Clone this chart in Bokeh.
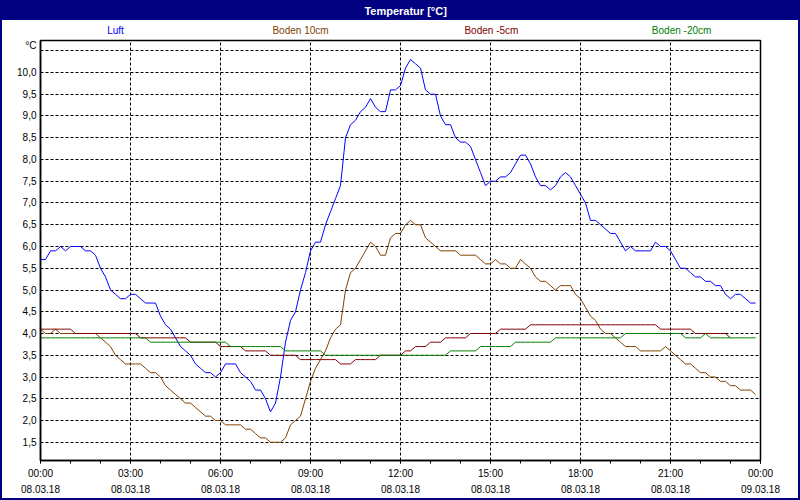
import numpy as np
from bokeh.plotting import figure
from bokeh.layouts import column
from bokeh.models import Range1d, FixedTicker
from bokeh.core.properties import value
from bokeh.embed import file_html
from bokeh.resources import INLINE

TITLE = "Temperatur [°C]"
UNIT = "°C"
series_names = ["Luft", "Boden 10cm", "Boden -5cm", "Boden -20cm"]
series_colors = ["#0000FF", "#804000", "#800000", "#008000"]
step_minutes = 10  # one reading every 10 minutes, starting 08.03.18 00:00

luft = [5.7, 5.7, 5.9, 5.9, 6.0, 5.9, 6.0, 6.0, 6.0, 5.9, 5.9, 5.8,
        5.5, 5.3, 5.0, 4.9, 4.8, 4.8, 4.9, 4.9, 4.8, 4.7, 4.7, 4.7,
        4.4, 4.2, 4.1, 3.9, 3.7, 3.6, 3.5, 3.3, 3.2, 3.1, 3.1, 3.0,
        3.1, 3.3, 3.3, 3.3, 3.1, 3.0, 2.9, 2.7, 2.7, 2.5, 2.2, 2.4,
        3.0, 3.8, 4.3, 4.5, 5.0, 5.4, 5.9, 6.1, 6.1, 6.5, 6.8, 7.1,
        7.4, 8.5, 8.8, 8.9, 9.1, 9.2, 9.4, 9.2, 9.1, 9.1, 9.6, 9.6,
        9.7, 10.1, 10.3, 10.2, 10.1, 9.6, 9.5, 9.5, 9.0, 8.8, 8.8, 8.5,
        8.4, 8.4, 8.3, 8.0, 7.7, 7.4, 7.5, 7.5, 7.6, 7.6, 7.7, 7.9,
        8.1, 8.1, 7.9, 7.6, 7.4, 7.4, 7.3, 7.4, 7.6, 7.7, 7.6, 7.4,
        7.2, 7.0, 6.6, 6.6, 6.5, 6.4, 6.3, 6.3, 6.1, 5.9, 6.0, 5.9,
        5.9, 5.9, 5.9, 6.1, 6.0, 6.0, 5.9, 5.7, 5.5, 5.5, 5.4, 5.3,
        5.3, 5.2, 5.2, 5.1, 5.1, 4.9, 4.8, 4.9, 4.9, 4.8, 4.7, 4.7]

boden_10 = [4.1, 4.0, 4.0, 4.1, 4.0, 4.0, 4.0, 4.0, 4.0, 4.0, 4.0, 4.0,
            3.9, 3.8, 3.7, 3.5, 3.4, 3.3, 3.3, 3.3, 3.3, 3.2, 3.1, 3.1,
            3.0, 2.8, 2.7, 2.6, 2.5, 2.4, 2.4, 2.3, 2.2, 2.1, 2.1, 2.0,
            2.0, 1.9, 1.9, 1.9, 1.9, 1.8, 1.8, 1.7, 1.6, 1.6, 1.5, 1.5,
            1.5, 1.6, 1.9, 2.0, 2.1, 2.5, 2.9, 3.2, 3.4, 3.6, 3.9, 4.1,
            4.2, 5.0, 5.4, 5.5, 5.7, 5.9, 6.1, 6.0, 5.8, 5.8, 6.2, 6.3,
            6.3, 6.5, 6.6, 6.5, 6.5, 6.2, 6.1, 6.0, 5.9, 5.9, 5.9, 5.9,
            5.8, 5.8, 5.8, 5.8, 5.7, 5.6, 5.6, 5.7, 5.6, 5.6, 5.5, 5.5,
            5.7, 5.6, 5.5, 5.3, 5.2, 5.2, 5.1, 5.0, 5.1, 5.1, 5.1, 4.9,
            4.8, 4.6, 4.4, 4.3, 4.1, 4.0, 4.0, 3.9, 3.8, 3.7, 3.7, 3.7,
            3.6, 3.6, 3.6, 3.6, 3.6, 3.7, 3.6, 3.5, 3.4, 3.3, 3.3, 3.2,
            3.1, 3.1, 3.0, 3.0, 2.9, 2.9, 2.8, 2.8, 2.7, 2.7, 2.7, 2.6]

boden_m5 = [4.1, 4.1, 4.1, 4.1, 4.1, 4.1, 4.1, 4.0, 4.0, 4.0, 4.0, 4.0,
            4.0, 4.0, 4.0, 4.0, 4.0, 4.0, 4.0, 4.0, 3.9, 3.9, 3.9, 3.9,
            3.9, 3.9, 3.9, 3.9, 3.9, 3.9, 3.8, 3.8, 3.8, 3.8, 3.8, 3.8,
            3.7, 3.7, 3.7, 3.7, 3.7, 3.6, 3.6, 3.6, 3.6, 3.6, 3.5, 3.5,
            3.5, 3.5, 3.5, 3.5, 3.4, 3.4, 3.4, 3.4, 3.4, 3.4, 3.4, 3.4,
            3.3, 3.3, 3.3, 3.4, 3.4, 3.4, 3.4, 3.4, 3.5, 3.5, 3.5, 3.5,
            3.5, 3.6, 3.6, 3.7, 3.7, 3.7, 3.8, 3.8, 3.8, 3.9, 3.9, 3.9,
            3.9, 3.9, 4.0, 4.0, 4.0, 4.0, 4.0, 4.0, 4.1, 4.1, 4.1, 4.1,
            4.1, 4.1, 4.2, 4.2, 4.2, 4.2, 4.2, 4.2, 4.2, 4.2, 4.2, 4.2,
            4.2, 4.2, 4.2, 4.2, 4.2, 4.2, 4.2, 4.2, 4.2, 4.2, 4.2, 4.2,
            4.2, 4.2, 4.2, 4.2, 4.1, 4.1, 4.1, 4.1, 4.1, 4.1, 4.1, 4.0,
            4.0, 4.0, 4.0, 4.0, 4.0, 4.0, 3.9]

boden_m20 = [3.9, 3.9, 3.9, 3.9, 3.9, 3.9, 3.9, 3.9, 3.9, 3.9, 3.9, 3.9,
             3.9, 3.9, 3.9, 3.9, 3.9, 3.9, 3.9, 3.9, 3.9, 3.9, 3.8, 3.8,
             3.8, 3.8, 3.8, 3.8, 3.8, 3.8, 3.8, 3.8, 3.8, 3.8, 3.8, 3.8,
             3.8, 3.8, 3.7, 3.7, 3.7, 3.7, 3.7, 3.7, 3.7, 3.7, 3.7, 3.7,
             3.7, 3.6, 3.6, 3.6, 3.6, 3.6, 3.6, 3.6, 3.6, 3.5, 3.5, 3.5,
             3.5, 3.5, 3.5, 3.5, 3.5, 3.5, 3.5, 3.5, 3.5, 3.5, 3.5, 3.5,
             3.5, 3.5, 3.5, 3.5, 3.5, 3.5, 3.5, 3.5, 3.5, 3.5, 3.6, 3.6,
             3.6, 3.6, 3.6, 3.6, 3.7, 3.7, 3.7, 3.7, 3.7, 3.7, 3.7, 3.8,
             3.8, 3.8, 3.8, 3.8, 3.8, 3.8, 3.8, 3.9, 3.9, 3.9, 3.9, 3.9,
             3.9, 3.9, 3.9, 3.9, 3.9, 3.9, 3.9, 3.9, 3.9, 4.0, 4.0, 4.0,
             4.0, 4.0, 4.0, 4.0, 4.0, 4.0, 4.0, 4.0, 4.0, 3.9, 3.9, 3.9,
             3.9, 4.0, 3.9, 3.9, 3.9, 3.9, 3.9, 3.9, 3.9, 3.9, 3.9, 3.9]

series_values = [luft, boden_10, boden_m5, boden_m20]

x_tick_hours = [0, 3, 6, 9, 12, 15, 18, 21, 24]
x_tick_labels = ["00:00\n08.03.18", "03:00\n08.03.18", "06:00\n08.03.18",
                 "09:00\n08.03.18", "12:00\n08.03.18", "15:00\n08.03.18",
                 "18:00\n08.03.18", "21:00\n08.03.18", "00:00\n09.03.18"]
x_minor_hours = list(range(0, 25))
y_grid = [1.5, 2.0, 2.5, 3.0, 3.5, 4.0, 4.5, 5.0, 5.5, 6.0, 6.5, 7.0,
          7.5, 8.0, 8.5, 9.0, 9.5, 10.0, 10.5]
y_tick_labels = ["1,5", "2,0", "2,5", "3,0", "3,5", "4,0", "4,5", "5,0",
                 "5,5", "6,0", "6,5", "7,0", "7,5", "8,0", "8,5", "9,0",
                 "9,5", "10,0", ""]
unit_label_pos = 10.644   # where the unit sits on the value axis

FONT = "Liberation Sans"
NAVY = "#000080"
W = 796          # inner width (2 px navy window border on each side)
BL, BR = 38, 38  # borders left / right of the plotting frame


def key(v):
    return int(v) if float(v).is_integer() else v


# ---- title bar ----
tfig = figure(width=W, height=20, x_range=Range1d(0, 24), y_range=Range1d(0, 20),
              toolbar_location=None, output_backend="svg",
              min_border_left=BL, min_border_right=BR, min_border_top=0, min_border_bottom=0,
              x_axis_location=None, y_axis_location=None, title_location=None,
              background_fill_color=None, border_fill_color=None,
              outline_line_color=None, styles={"background-color": NAVY})
tfig.grid.visible = False
tfig.text(x=[12.17], y=[10], text=[TITLE], text_color="white",
          text_align="center", text_baseline="middle",
          text_font=value(FONT), text_font_style="bold", text_font_size="11px")

# ---- legend row ----
legend_x = [2.5, 8.667, 15.03, 21.37]
lfig = figure(width=W, height=19, x_range=Range1d(0, 24), y_range=Range1d(0, 19),
              toolbar_location=None, output_backend="svg",
              min_border_left=BL, min_border_right=BR, min_border_top=0, min_border_bottom=0,
              x_axis_location=None, y_axis_location=None, title_location=None,
              background_fill_color="white", border_fill_color="white",
              outline_line_color=None)
lfig.grid.visible = False
lfig.text(x=legend_x, y=[9.0] * len(legend_x), text=series_names, text_color=series_colors,
          text_align="center", text_baseline="middle",
          text_font=value(FONT), text_font_size="10px")

# ---- main chart ----
y_lo, y_hi = 1.0805, 10.7356
p = figure(width=W, height=459, x_range=Range1d(0, 24), y_range=Range1d(y_lo, y_hi),
           toolbar_location=None, output_backend="svg", title_location=None,
           min_border_left=BL, min_border_right=BR, min_border_top=1, min_border_bottom=38,
           background_fill_color="white", border_fill_color="white")
p.outline_line_color = "black"
p.outline_line_width = 1.5

p.xaxis.ticker = FixedTicker(ticks=x_tick_hours, minor_ticks=x_minor_hours)
p.xaxis.major_label_overrides = {key(h): lab for h, lab in zip(x_tick_hours, x_tick_labels)}
p.yaxis.ticker = FixedTicker(ticks=y_grid + [unit_label_pos])
overrides = {key(v): lab for v, lab in zip(y_grid, y_tick_labels)}
overrides[key(unit_label_pos)] = UNIT
p.yaxis.major_label_overrides = overrides
p.ygrid.ticker = FixedTicker(ticks=y_grid)
p.xgrid.ticker = FixedTicker(ticks=x_tick_hours)

for ax in (p.xaxis[0], p.yaxis[0]):
    ax.axis_line_color = "black"
    ax.axis_line_width = 1.5
    ax.major_label_text_font = FONT
    ax.major_label_text_font_size = "10px"
    ax.major_label_text_color = "black"
    ax.major_tick_in = 0
    ax.minor_tick_in = 0
    ax.major_tick_line_color = "black"
    ax.minor_tick_line_color = "black"

p.xaxis.major_tick_out = 3
p.xaxis.minor_tick_out = 3
p.xaxis.major_label_standoff = 4
p.xaxis.major_label_text_line_height = 1.5
p.yaxis.major_tick_out = 0
p.yaxis.minor_tick_out = 0
p.yaxis.major_label_standoff = 4

for g in (p.xgrid[0], p.ygrid[0]):
    g.grid_line_color = "black"
    g.grid_line_dash = "3 2"
    g.grid_line_width = 1
    g.grid_line_alpha = 1.0

for vals, col in zip(series_values, series_colors):
    hours = np.arange(len(vals)) * step_minutes / 60.0
    p.line(hours, vals, line_color=col, line_width=1)

layout = column(tfig, lfig, p, styles={"border-left": "2px solid " + NAVY,
                                       "border-right": "2px solid " + NAVY,
                                       "border-bottom": "2px solid " + NAVY})

open("out.html", "w").write(file_html(layout, INLINE))
